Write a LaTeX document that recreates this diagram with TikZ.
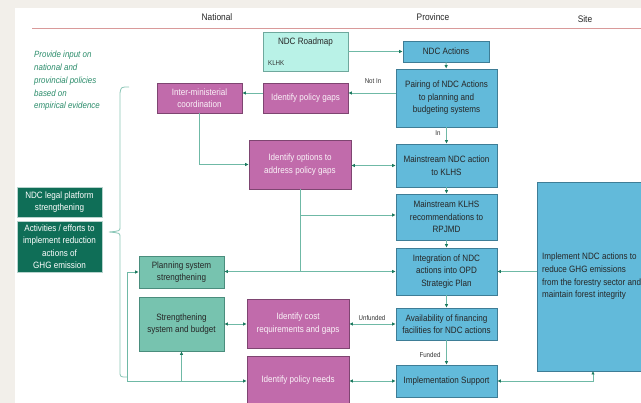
\documentclass[tikz,border=0pt]{standalone}
\usepackage{fontspec}
\setmainfont{Liberation Sans}[FakeStretch=0.88]
\usetikzlibrary{arrows.meta,calc}
\definecolor{pinkc}{HTML}{C16BAB}
\definecolor{pinkb}{HTML}{7E4571}
\definecolor{bluec}{HTML}{62BADA}
\definecolor{blueb}{HTML}{3E7D96}
\definecolor{cyanc}{HTML}{B9F2E7}
\definecolor{cyanb}{HTML}{6FA89D}
\definecolor{tealc}{HTML}{77C3AF}
\definecolor{tealb}{HTML}{4A8D7D}
\definecolor{darkg}{HTML}{0F6E57}
\definecolor{linec}{HTML}{6FB9A6}
\definecolor{tipc}{HTML}{1E7A60}
\definecolor{greentext}{HTML}{2A8C6A}
\definecolor{headc}{HTML}{D99A9A}
\definecolor{bgc}{HTML}{F2EFEA}
\tikzset{
  x=1pt,y=-1pt,
  boxbase/.style={draw, line width=0.8pt, inner sep=1pt, align=center, font=\fontsize{9.2}{12.5}\selectfont},
  pinkbox/.style={boxbase, fill=pinkc, draw=pinkb, text=white!92!pinkc},
  bluebox/.style={boxbase, fill=bluec, draw=blueb, text=black!85},
  cyanbox/.style={boxbase, fill=cyanc, draw=cyanb, text=black!85},
  tealbox/.style={boxbase, fill=tealc, draw=tealb, text=black!85},
  darkbox/.style={boxbase, fill=darkg, draw=white!70!darkg, text=white},
  conn/.style={draw=linec, line width=0.8pt, -{Latex[length=3.5pt,width=3.5pt,color=tipc]}},
  dconn/.style={draw=linec, line width=0.8pt, {Latex[length=3.5pt,width=3.5pt,color=tipc]}-{Latex[length=3.5pt,width=3.5pt,color=tipc]}},
  plain/.style={draw=linec, line width=0.8pt},
  smalllab/.style={font=\fontsize{7}{8}\selectfont, text=black!80, inner sep=0pt},
  headlab/.style={font=\fontsize{9.5}{11}\selectfont, text=black!85, inner sep=0pt}
}
\begin{document}
\begin{tikzpicture}
\useasboundingbox (0,0) rectangle (641,403);
\clip (0,0) rectangle (641,403);
\fill[bgc] (0,0) rectangle (641,403);
\fill[white] (15,8) rectangle (641,403);

% headers
\node[headlab] (hnat) at (217,17) {National};
\node[headlab] (hprov) at (433,17) {Province};
\node[headlab] (hsite) at (585,19) {Site};
\draw[headc, line width=0.8pt] (32,28) -- (641,28);

% left italic text
\node[anchor=north west, inner sep=0pt, align=left, text=greentext,
      font=\fontsize{9}{12.8}\selectfont\itshape] (provide) at (34,51)
  {Provide input on\\national and\\provincial policies\\based on\\empirical evidence};

% boxes
\node[cyanbox, minimum width=85, minimum height=39] (roadmap) at (305.5,51.5) {};
\node[inner sep=0pt, font=\fontsize{9.2}{11}\selectfont, text=black!85] (roadmaptxt) at (305.5,42) {NDC Roadmap};
\node[smalllab, anchor=west] (klhk) at (268,63) {KLHK};
\node[bluebox, minimum width=86, minimum height=21] (actions) at (446,51.5) {NDC Actions};
\node[bluebox, minimum width=101, minimum height=58] (pair) at (446.5,98) {Pairing of NDC Actions\\to planning and\\budgeting systems};
\node[bluebox, minimum width=101, minimum height=43] (mndc) at (446.5,165.5) {Mainstream NDC action\\to KLHS};
\node[bluebox, minimum width=101, minimum height=46] (mklhs) at (446.5,217) {Mainstream KLHS\\recommendations to\\RPJMD};
\node[bluebox, minimum width=101, minimum height=47] (integ) at (446.5,271.5) {Integration of NDC\\actions into OPD\\Strategic Plan};
\node[bluebox, minimum width=101, minimum height=32] (avail) at (446.5,324) {Availability of financing\\facilities for NDC actions};
\node[bluebox, minimum width=101, minimum height=32] (impl) at (446.5,381) {Implementation Support};
\node[bluebox, minimum width=123, minimum height=189] (site) at (598.5,276.5) {};
\node[anchor=west, inner sep=0pt, align=left, font=\fontsize{9.2}{12.6}\selectfont, text=black!85] (sitetxt) at (542,276.5)
  {Implement NDC actions to\\reduce GHG emissions\\from the forestry sector and\\maintain forest integrity};

\node[pinkbox, minimum width=85, minimum height=30] (inter) at (199.5,98) {Inter-ministerial\\coordination};
\node[pinkbox, minimum width=85, minimum height=30] (gaps) at (305.5,98) {Identify policy gaps};
\node[pinkbox, minimum width=102, minimum height=49] (options) at (300,164.5) {Identify options to\\address policy gaps};
\node[pinkbox, minimum width=102, minimum height=49] (cost) at (298,323.5) {Identify cost\\requirements and gaps};
\node[pinkbox, minimum width=102, minimum height=48] (needs) at (298,380) {Identify policy needs};

\node[tealbox, minimum width=85, minimum height=32] (planning) at (181.5,272) {Planning system\\strengthening};
\node[tealbox, minimum width=85, minimum height=54] (strength) at (181.5,324) {Strengthening\\system and budget};

\node[darkbox, minimum width=85, minimum height=30] (legal) at (59.5,202) {NDC legal platform\\strengthening};
\node[darkbox, minimum width=85, minimum height=51] (activities) at (59.5,246.5) {Activities / efforts to\\implement reduction\\actions of\\GHG emission};

% brace
\draw[linec!80, line width=0.8pt] (129,87) .. controls (121,87) .. (120,93) -- (120,227)
  .. controls (120,231) .. (109,232) .. controls (120,233) .. (120,237) -- (120,371)
  .. controls (120,377) .. (127,377);

% connectors
\coordinate (ynotin) at (0,93);
\draw[conn] (roadmap) -- (actions);
\draw[conn] (actions) -- (pair);
\draw[conn] (pair.west |- ynotin) -- (gaps.east |- ynotin);
\node[smalllab] (notin) at (373,81) {Not In};
\draw[conn] (gaps.west |- ynotin) -- (inter.east |- ynotin);
\draw[conn] (inter.south) |- (options.west);
\draw[conn] (pair) -- (mndc);
\node[smalllab] (inlab) at (438,133) {In};
\draw[dconn] (options.east |- mndc.west) -- (mndc.west);
\draw[conn] (mndc) -- (mklhs);
\coordinate (ybranch) at (0,215);
\draw[plain] (options.south) -- (options.south |- integ.west);
\draw[conn] (options.south |- ybranch) -- (mklhs.west |- ybranch);
\draw[conn] (options.south |- integ.west) -- (planning.east |- integ.west);
\draw[conn] (options.south |- integ.west) -- (integ.west);
\draw[conn] (mklhs) -- (integ);
\draw[conn] (integ) -- (avail);
\draw[conn] (site.west |- integ.east) -- (integ.east);
\draw[dconn] (cost.east |- avail.west) -- (avail.west);
\node[smalllab] (unfunded) at (372,318) {Unfunded};
\draw[dconn] (strength.east) -- (cost.west |- strength.east);
\draw[conn] (avail) -- (impl);
\node[smalllab] (funded) at (430,355) {Funded};
\draw[dconn] (needs.east |- impl.west) -- (impl.west);
\coordinate (sitein) at (593,371);
\draw[dconn] (impl.east) -| (sitein);
\coordinate (lc) at (127,381);
\draw[conn] (lc) |- (planning.west);
\draw[conn] (lc) -- (needs.west |- lc);
\draw[conn] (strength.south |- lc) -- (strength.south);
\end{tikzpicture}
\end{document}
